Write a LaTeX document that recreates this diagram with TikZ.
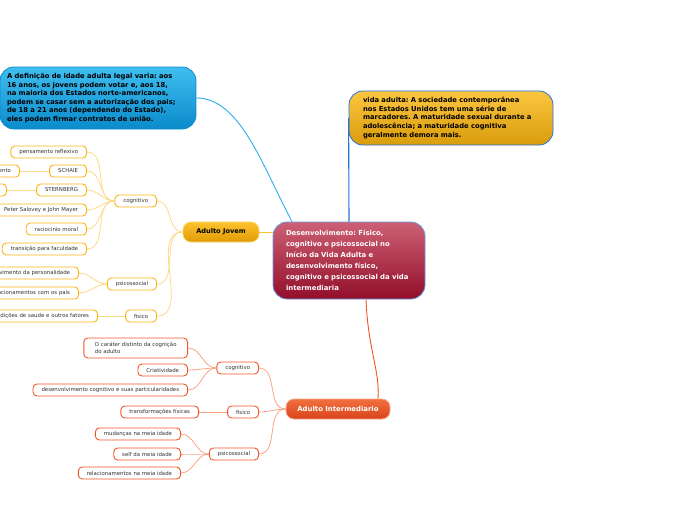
\documentclass[tikz,border=0pt]{standalone}
\usepackage{fontspec}
\setmainfont{DejaVu Sans}
\usetikzlibrary{positioning, calc}
\frenchspacing

\definecolor{ygold}{HTML}{FBB516}
\definecolor{ylink}{HTML}{FDD98A}
\definecolor{oline}{HTML}{F0552A}
\definecolor{olink}{HTML}{F8A587}
\definecolor{leaftext}{HTML}{333333}
\definecolor{bluetop}{HTML}{40BEF0}
\definecolor{bluebot}{HTML}{0A8BCB}
\definecolor{bluelink}{HTML}{2BAEE6}
\definecolor{deepblue}{HTML}{2670DA}
\definecolor{goldtop}{HTML}{FBC640}
\definecolor{goldbot}{HTML}{D99C0C}
\definecolor{redtop}{HTML}{CC6074}
\definecolor{redbot}{HTML}{930E2A}
\definecolor{ajtop}{HTML}{FCC22C}
\definecolor{ajbot}{HTML}{E09C06}
\definecolor{aitop}{HTML}{F2703F}
\definecolor{aibot}{HTML}{D8441A}

\begin{document}
\begin{tikzpicture}[
x=1pt, y=-1pt,
leafy/.style={draw=ygold, line width=0.9pt, rounded corners=4pt, fill=white, text=leaftext,
  font=\fontsize{5.4}{6.8}\selectfont, inner xsep=8.5pt, inner ysep=0pt, minimum height=12pt, anchor=east},
leafo/.style={leafy, draw=oline},
cut/.style={text width=#1, align=right},
linky/.style={draw=ylink, line width=0.8pt},
linko/.style={draw=olink, line width=0.8pt},
bigbox/.style={rounded corners=14pt, line width=0.8pt, align=left, inner ysep=0pt},
topic/.style={rounded corners=8pt, line width=0.8pt, inner sep=0pt, minimum height=20pt}
]
\useasboundingbox (0,0) rectangle (696,520);

% main nodes
\node[bigbox, draw=bluebot, top color=bluetop, bottom color=bluebot, inner xsep=7pt, text width=182pt, minimum height=62pt,
  font=\fontsize{6.8}{8.6}\selectfont\bfseries] (def) at (98,98)
  {A definição de idade adulta legal varia: aos\\16 anos, os jovens podem votar e, aos 18,\\na maioria dos Estados norte-americanos,\\podem se casar sem a autorização dos pais;\\de 18 a 21 anos (dependendo do Estado),\\eles podem firmar contratos de união.};
\node[bigbox, draw=deepblue, top color=goldtop, bottom color=goldbot, inner xsep=14pt, text width=176pt, minimum height=54pt,
  font=\fontsize{6.8}{8.6}\selectfont\bfseries] (vida) at (451,118)
  {vida adulta: A sociedade contemporânea\\nos Estados Unidos tem uma série de\\marcadores. A maturidade sexual durante a\\adolescência; a maturidade cognitiva\\geralmente demora mais.};
\node[bigbox, draw=deepblue!70, top color=redtop, bottom color=redbot, text=white, inner xsep=13pt, text width=126pt, minimum height=77pt,
  font=\fontsize{6.9}{11}\selectfont\bfseries] (central) at (349,260.5)
  {Desenvolvimento: Físico,\\cognitivo e psicossocial no\\Início da Vida Adulta e\\desenvolvimento físico,\\cognitivo e psicossocial da vida\\intermediaria};
\node[topic, draw=ajtop!70, top color=ajtop, bottom color=ajbot, minimum width=76pt,
  font=\fontsize{6.6}{8}\selectfont\bfseries] (aj) at (221,232) {Adulto Jovem};
\node[topic, draw=aitop!60, top color=aitop, bottom color=aibot, text=white, minimum width=104pt,
  font=\fontsize{6.9}{8}\selectfont\bfseries] (ai) at (338,409) {Adulto Intermediario};

% Adulto Jovem
\node[leafy] (cogY) at (157,201) {cognitivo};
\node[leafy] (psiY) at (157,284) {psicossocial};
\node[leafy] (fisY) at (157,316) {fisico};

\node[leafy] (reflexivo) at (87,152) {pensamento reflexivo};
\node[leafy] (schaie) at (87,171) {SCHAIE};
\node[leafy, cut=70pt] (ento) at (20,171) {ento};
\node[leafy] (sternberg) at (87,190) {STERNBERG};
\node[leafy, cut=40pt] (stcut) at (7,190) {};
\node[leafy] (salovey) at (87,210) {Peter Salovey e John Mayer};
\node[leafy] (moral) at (87,229) {raciocinio moral};
\node[leafy] (faculdade) at (87,249) {transição para faculdade};
\node[leafy, cut=90pt] (perso) at (79,273) {vimento da personalidade};
\node[leafy, cut=90pt] (pais) at (79,293) {acionamentos com os pais};
\node[leafy, cut=110pt] (saude) at (98,316) {dições de saude e outros fatores};

% Adulto Intermediario
\node[leafo] (cogO) at (259,368) {cognitivo};
\node[leafo] (fisO) at (259,412) {fisico};
\node[leafo] (psiO) at (259,454) {psicossocial};

\node[leafo, align=left, minimum height=20pt, inner xsep=11pt] (carater) at (188,348) {O caráter distinto da cognição\\do adulto};
\node[leafo] (criat) at (188,370) {Criatividade};
\node[leafo] (desenv) at (188,390) {desenvolvimento cognitivo e suas particularidades};
\node[leafo] (transf) at (199,412) {transformações físicas};
\node[leafo] (mudancas) at (181,434) {mudanças na meia idade};
\node[leafo] (self) at (181,454) {self da meia idade};
\node[leafo] (relac) at (181,473) {relacionamentos na meia idade};

% connectors
\draw[bluelink, line width=0.9pt] (def.east) .. controls (240,98) and (262,165) .. ($(central.north)+(-57,0)$);
\draw[deepblue, line width=1.1pt] (vida.west) -- (central.north);
\draw[ajtop, line width=0.9pt] (aj.east) -- (aj.east -| central.west);
\draw[oline, line width=0.9pt] ($(central.south)+(17,0)$) .. controls (368,350) and (380,370) .. ($(ai.north)+(40,0)$);

\foreach \n in {cogY, psiY, fisY}
  \draw[linky] (aj.west) to[out=180, in=0] (\n.east);
\foreach \n in {reflexivo, schaie, sternberg, salovey, moral, faculdade}
  \draw[linky] (cogY.west) to[out=180, in=0] (\n.east);
\draw[linky] (schaie.west) -- (ento.east);
\draw[linky] (sternberg.west) -- (stcut.east);
\foreach \n in {perso, pais}
  \draw[linky] (psiY.west) to[out=180, in=0] (\n.east);
\draw[linky] (fisY.west) -- (saude.east);

\foreach \n in {cogO, fisO, psiO}
  \draw[linko] (ai.west) to[out=180, in=0] (\n.east);
\foreach \n in {carater, criat, desenv}
  \draw[linko] (cogO.west) to[out=180, in=0] (\n.east);
\draw[linko] (fisO.west) -- (transf.east);
\foreach \n in {mudancas, self, relac}
  \draw[linko] (psiO.west) to[out=180, in=0] (\n.east);
\end{tikzpicture}
\end{document}
